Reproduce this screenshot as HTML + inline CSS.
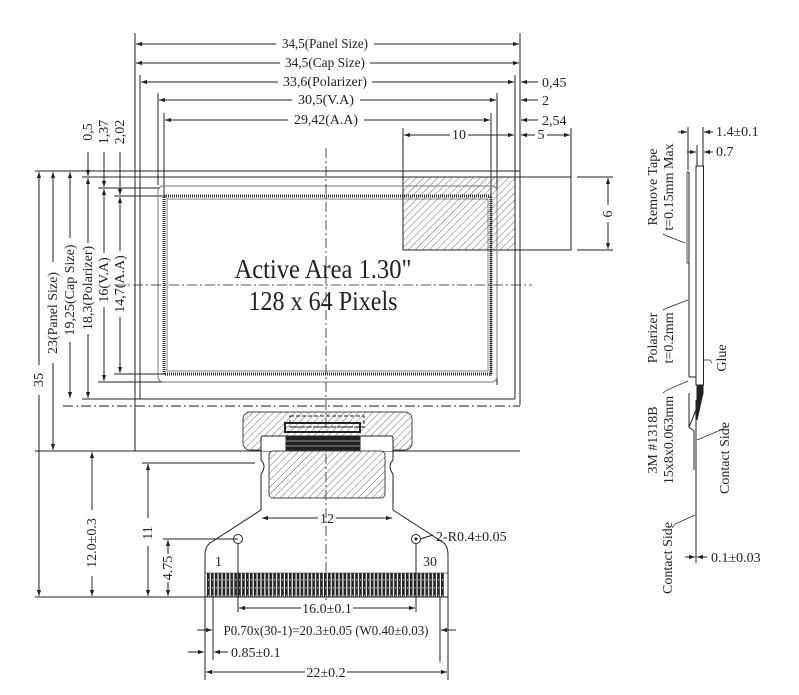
<!DOCTYPE html>
<html><head><meta charset="utf-8"><style>
html,body{margin:0;padding:0;background:#fff;}
svg{display:block;}
text{font-family:"Liberation Serif",serif;fill:#222;}
</style></head><body>
<svg width="799" height="695" viewBox="0 0 799 695" xmlns="http://www.w3.org/2000/svg">
<defs>
<pattern id="h" patternUnits="userSpaceOnUse" width="5" height="5" patternTransform="rotate(45)">
<line x1="0" y1="0" x2="0" y2="5" stroke="#444" stroke-width="0.8"/>
</pattern>
<pattern id="p" patternUnits="userSpaceOnUse" x="207" y="0" width="3.9" height="8">
<rect x="0" y="0" width="2.7" height="8" fill="#222"/>
<rect x="1" y="3" width="0.8" height="1.5" fill="#ddd"/>
</pattern>
<marker id="a" viewBox="0 0 10 10" refX="10" refY="5" markerWidth="8" markerHeight="6" orient="auto-start-reverse" markerUnits="userSpaceOnUse">
<path d="M0,1.5 L10,5 L0,8.5 z" fill="#222"/>
</marker>
</defs>
<g stroke="#222" stroke-width="1" fill="none">
<line x1="135" y1="33" x2="135" y2="451"/>
<line x1="520" y1="33" x2="520" y2="405"/>
<line x1="140" y1="75" x2="140" y2="399"/>
<line x1="515" y1="75" x2="515" y2="399"/>
<line x1="158" y1="93" x2="158" y2="185"/>
<line x1="497" y1="93" x2="497" y2="385"/>
<line x1="164" y1="113" x2="164" y2="195"/>
<line x1="491" y1="113" x2="491" y2="376"/>
<line x1="403" y1="128" x2="403" y2="177"/>
<line x1="571" y1="128" x2="571" y2="177"/>
<line x1="136" y1="44" x2="276" y2="44" marker-start="url(#a)"/>
<line x1="374" y1="44" x2="519" y2="44" marker-end="url(#a)"/>
<line x1="136" y1="63" x2="280" y2="63" marker-start="url(#a)"/>
<line x1="370" y1="63" x2="519" y2="63" marker-end="url(#a)"/>
<line x1="141" y1="82" x2="278" y2="82" marker-start="url(#a)"/>
<line x1="372" y1="82" x2="514" y2="82" marker-end="url(#a)"/>
<line x1="538" y1="82" x2="521" y2="82" marker-end="url(#a)"/>
<line x1="159" y1="100" x2="292" y2="100" marker-start="url(#a)"/>
<line x1="360" y1="100" x2="496" y2="100" marker-end="url(#a)"/>
<line x1="538" y1="100" x2="521" y2="100" marker-end="url(#a)"/>
<line x1="165" y1="120" x2="288" y2="120" marker-start="url(#a)"/>
<line x1="364" y1="120" x2="490" y2="120" marker-end="url(#a)"/>
<line x1="538" y1="120" x2="521" y2="120" marker-end="url(#a)"/>
<line x1="404" y1="135" x2="450" y2="135" marker-start="url(#a)"/>
<line x1="468" y1="135" x2="514" y2="135" marker-end="url(#a)"/>
<line x1="521" y1="135" x2="535" y2="135" marker-start="url(#a)"/>
<line x1="547" y1="135" x2="570" y2="135" marker-end="url(#a)"/>
<line x1="35" y1="171" x2="520" y2="171"/>
<line x1="82" y1="177" x2="571" y2="177"/>
<line x1="98" y1="188" x2="160" y2="188"/>
<line x1="114" y1="196" x2="166" y2="196"/>
<line x1="114" y1="374" x2="166" y2="374"/>
<line x1="98" y1="382" x2="162" y2="382"/>
<line x1="82" y1="399" x2="515" y2="399"/>
<line x1="63" y1="406" x2="520" y2="406" stroke-dasharray="10,3,2,3"/>
<line x1="35" y1="451" x2="520" y2="451"/>
<line x1="35" y1="597" x2="448" y2="597"/>
<rect x="403" y="177" width="112" height="73" fill="url(#h)"/>
<rect x="515" y="177" width="56" height="73"/>
<line x1="577" y1="177" x2="613" y2="177"/>
<line x1="577" y1="250" x2="613" y2="250"/>
<line x1="608" y1="178" x2="608" y2="205" marker-start="url(#a)"/>
<line x1="608" y1="222" x2="608" y2="249" marker-end="url(#a)"/>
<rect x="158" y="186" width="339" height="196" rx="5" stroke="#777"/>
<rect x="164" y="196" width="327" height="178" stroke="#333" stroke-width="3" stroke-dasharray="1,1"/>
<rect x="167" y="199" width="321" height="172" stroke="#333" stroke-width="0.6"/>
<line x1="326" y1="148" x2="326" y2="600" stroke-dasharray="10,3,2,3" stroke-width="0.8"/>
<line x1="115" y1="285" x2="532" y2="285" stroke-dasharray="10,3,2,3" stroke-width="0.8"/>
<line x1="39" y1="172" x2="39" y2="365" marker-start="url(#a)"/>
<line x1="39" y1="395" x2="39" y2="596" marker-end="url(#a)"/>
<line x1="53" y1="172" x2="53" y2="262" marker-start="url(#a)"/>
<line x1="53" y1="363" x2="53" y2="450" marker-end="url(#a)"/>
<line x1="70" y1="172" x2="70" y2="238" marker-start="url(#a)"/>
<line x1="70" y1="342" x2="70" y2="398" marker-end="url(#a)"/>
<line x1="88" y1="178" x2="88" y2="243" marker-start="url(#a)"/>
<line x1="88" y1="334" x2="88" y2="398" marker-end="url(#a)"/>
<line x1="104" y1="189" x2="104" y2="253" marker-start="url(#a)"/>
<line x1="104" y1="307" x2="104" y2="381" marker-end="url(#a)"/>
<line x1="120" y1="197" x2="120" y2="251" marker-start="url(#a)"/>
<line x1="120" y1="317" x2="120" y2="373" marker-end="url(#a)"/>
<line x1="88" y1="152" x2="88" y2="176" marker-end="url(#a)"/>
<line x1="104" y1="152" x2="104" y2="187" marker-end="url(#a)"/>
<line x1="120" y1="152" x2="120" y2="195" marker-end="url(#a)"/>
<rect x="243" y="412" width="169" height="38" rx="7" fill="url(#h)" stroke="#444"/>
<rect x="290" y="416" width="74" height="11" stroke-dasharray="4,2"/>
<rect x="285" y="423" width="75" height="9" stroke-width="2"/>
<line x1="290" y1="427" x2="355" y2="427" stroke-dasharray="6,2"/>
<path d="M261,451 L261,438 Q261,436 263,436 L391,436 Q393,436 393,438 L393,451" fill="#fff"/>
<rect x="286" y="437" width="74" height="14" fill="#222"/>
<g stroke="#fff" stroke-width="0.6">
<line x1="286" y1="441" x2="360" y2="441"/><line x1="286" y1="446" x2="360" y2="446"/>
</g>
<path d="M261,451 L261,460 Q267,466 261,474 L261,510 L210,543 Q205,547 205,555 L205,597 M393,451 L393,460 Q387,466 393,474 L393,510 L444,543 Q448,547 448,555 L448,597"/>
<rect x="269" y="451" width="116" height="47" rx="4" fill="url(#h)" stroke="#444"/>
<line x1="262" y1="518" x2="318" y2="518" marker-start="url(#a)"/>
<line x1="336" y1="518" x2="392" y2="518" marker-end="url(#a)"/>
<circle cx="238" cy="539" r="4.5"/>
<circle cx="416" cy="539" r="4.5"/>
<circle cx="416" cy="539" r="1" fill="#222"/>
<line x1="420" y1="539" x2="433" y2="535"/>
<rect x="207" y="573" width="238" height="24" fill="url(#p)" stroke="none"/>
<line x1="205" y1="573" x2="448" y2="573" stroke-width="0.6"/>
<line x1="92" y1="452" x2="92" y2="510" marker-start="url(#a)"/>
<line x1="92" y1="576" x2="92" y2="596" marker-end="url(#a)"/>
<line x1="142" y1="463" x2="255" y2="463"/>
<line x1="148" y1="464" x2="148" y2="518" marker-start="url(#a)"/>
<line x1="148" y1="546" x2="148" y2="596" marker-end="url(#a)"/>
<line x1="163" y1="539" x2="238" y2="539"/>
<line x1="168" y1="540" x2="168" y2="554" marker-start="url(#a)"/>
<line x1="168" y1="582" x2="168" y2="596" marker-end="url(#a)"/>
<line x1="238" y1="543" x2="238" y2="612"/>
<line x1="416" y1="543" x2="416" y2="612"/>
<line x1="205" y1="597" x2="205" y2="680"/>
<line x1="213" y1="597" x2="213" y2="660"/>
<line x1="440" y1="597" x2="440" y2="662"/>
<line x1="448" y1="597" x2="448" y2="680"/>
<line x1="239" y1="608" x2="301" y2="608" marker-start="url(#a)"/>
<line x1="353" y1="608" x2="415" y2="608" marker-end="url(#a)"/>
<line x1="197" y1="630" x2="212" y2="630" marker-end="url(#a)"/>
<line x1="456" y1="630" x2="441" y2="630" marker-end="url(#a)"/>
<line x1="188" y1="652" x2="204" y2="652" marker-end="url(#a)"/>
<line x1="228" y1="652" x2="214" y2="652" marker-end="url(#a)"/>
<line x1="206" y1="672" x2="305" y2="672" marker-start="url(#a)"/>
<line x1="347" y1="672" x2="447" y2="672" marker-end="url(#a)"/>
<line x1="688" y1="127" x2="688" y2="170"/>
<line x1="703" y1="127" x2="703" y2="166"/>
<line x1="697" y1="145" x2="697" y2="166"/>
<line x1="678" y1="132" x2="687" y2="132" marker-end="url(#a)"/>
<line x1="713" y1="132" x2="704" y2="132" marker-end="url(#a)"/>
<line x1="687" y1="152" x2="696" y2="152" marker-end="url(#a)"/>
<line x1="713" y1="152" x2="704" y2="152" marker-end="url(#a)"/>
<rect x="696" y="166" width="7.5" height="219"/>
<rect x="687" y="172" width="2" height="91" stroke-width="0.8"/>
<line x1="689" y1="172" x2="689" y2="377"/>
<line x1="689" y1="377" x2="696" y2="377"/>
<path d="M697,385 L703,385 L703,393 L697,420 Z" fill="#222"/>
<path d="M689,393 L689,427 L694,431 L694,470 M696,400 L696,563"/>
<line x1="689" y1="427" x2="703" y2="393"/>
<line x1="685" y1="557" x2="695" y2="557" marker-end="url(#a)"/>
<line x1="707" y1="557" x2="697" y2="557" marker-end="url(#a)"/>
<path d="M663,234 L667,236 L685,243" stroke-width="0.7"/>
<path d="M663,310 L667,308 L688,300" stroke-width="0.7"/>
<path d="M663,393 L667,390 L688,381" stroke-width="0.7"/>
<path d="M712,363 L710,360 L704,360" stroke-width="0.7"/>
<path d="M726,425 L723,429 L697,440" stroke-width="0.7"/>
<path d="M672,528 L675,524 L695,515" stroke-width="0.7"/>
</g>
<g font-size="14" text-anchor="middle">
<text x="325" y="48" textLength="86" lengthAdjust="spacingAndGlyphs">34,5(Panel Size)</text>
<text x="325" y="67" textLength="80" lengthAdjust="spacingAndGlyphs">34,5(Cap Size)</text>
<text x="325" y="86" textLength="84" lengthAdjust="spacingAndGlyphs">33,6(Polarizer)</text>
<text x="326" y="104" textLength="56" lengthAdjust="spacingAndGlyphs">30,5(V.A)</text>
<text x="326" y="124" textLength="64" lengthAdjust="spacingAndGlyphs">29,42(A.A)</text>
<text x="459" y="139">10</text>
<text x="541" y="139">5</text>
<text x="327" y="523">12</text>
<text x="327" y="613">16.0±0.1</text>
<text x="326" y="635" textLength="205" lengthAdjust="spacingAndGlyphs">P0.70x(30-1)=20.3±0.05 (W0.40±0.03)</text>
<text x="326" y="677">22±0.2</text>
</g>
<g font-size="14">
<text x="542" y="87">0,45</text>
<text x="542" y="105">2</text>
<text x="542" y="125">2,54</text>
<text x="436" y="541">2-R0.4±0.05</text>
<text x="215" y="566">1</text>
<text x="423" y="566">30</text>
<text x="231" y="657">0.85±0.1</text>
<text x="716" y="136">1.4±0.1</text>
<text x="716" y="156">0.7</text>
<text x="711" y="562">0.1±0.03</text>
</g>
<g font-size="14" text-anchor="middle">
<text transform="translate(612,214) rotate(-90)">6</text>
<text transform="translate(43,380) rotate(-90)">35</text>
<text transform="translate(57,313) rotate(-90)">23(Panel Size)</text>
<text transform="translate(74,290) rotate(-90)">19,25(Cap Size)</text>
<text transform="translate(92,288) rotate(-90)">18,3(Polarizer)</text>
<text transform="translate(108,280) rotate(-90)">16(V.A)</text>
<text transform="translate(124,284) rotate(-90)">14,7(A.A)</text>
<text transform="translate(92,132) rotate(-90)">0,5</text>
<text transform="translate(108,132) rotate(-90)">1,37</text>
<text transform="translate(124,132) rotate(-90)">2,02</text>
<text transform="translate(96,543) rotate(-90)">12.0±0.3</text>
<text transform="translate(152,533) rotate(-90)">11</text>
<text transform="translate(172,568) rotate(-90)">4.75</text>
<text transform="translate(657,187) rotate(-90)">Remove Tape</text>
<text transform="translate(673,187) rotate(-90)">t=0.15mm Max</text>
<text transform="translate(657,338) rotate(-90)">Polarizer</text>
<text transform="translate(673,338) rotate(-90)">t=0.2mm</text>
<text transform="translate(726,358) rotate(-90)">Glue</text>
<text transform="translate(657,440) rotate(-90)">3M #1318B</text>
<text transform="translate(673,440) rotate(-90)">15x8x0.063mm</text>
<text transform="translate(729,458) rotate(-90)">Contact Side</text>
<text transform="translate(672,558) rotate(-90)">Contact Side</text>
</g>
<g font-size="27" text-anchor="middle">
<text x="323" y="278" textLength="177" lengthAdjust="spacingAndGlyphs">Active Area 1.30"</text>
<text x="323" y="310" textLength="149" lengthAdjust="spacingAndGlyphs">128 x 64 Pixels</text>
</g>
</svg>
</body></html>
